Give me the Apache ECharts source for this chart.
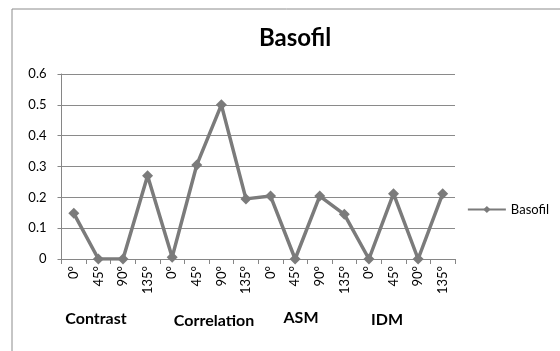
<!DOCTYPE html>
<html>
<head>
<meta charset="utf-8">
<script src="https://cdn.jsdelivr.net/npm/echarts@6/dist/echarts.min.js"></script>
<style>
  html, body { margin: 0; padding: 0; background: #fff; }
  #chart { width: 560px; height: 351px; }
</style>
</head>
<body>
<div id="chart"></div>
<script>
// Angle categories, repeated for each texture feature group
const angles = ['0°', '45°', '90°', '135°', '0°', '45°', '90°', '135°',
                '0°', '45°', '90°', '135°', '0°', '45°', '90°', '135°'];
const groups = ['Contrast', 'Correlation', 'ASM', 'IDM'];
const basofil = [0.148, 0, 0, 0.27, 0.006, 0.305, 0.5, 0.195,
                 0.204, 0, 0.204, 0.145, 0, 0.212, 0, 0.212];
const yTicks = { min: 0, max: 0.6, interval: 0.1 };

const font = 'Lato, "Open Sans", "Liberation Sans", sans-serif';
const gray = '#7b7b7b';

const chart = echarts.init(document.getElementById('chart'), null, { renderer: 'canvas' });

chart.setOption({
  animation: false,
  backgroundColor: '#fff',
  title: {
    text: 'Basofil',
    left: 290,
    top: 21,
    textAlign: 'center',
    textStyle: { fontFamily: font, fontSize: 24, fontWeight: 'bold', color: '#000' }
  },
  legend: {
    right: 6,
    top: 198,
    itemWidth: 38,
    itemHeight: 9,
    itemGap: 4,
    textStyle: { fontFamily: font, fontSize: 13, color: '#000' },
    data: ['Basofil']
  },
  grid: { left: 61.5, right: 105, top: 74, bottom: 92 },
  xAxis: {
    type: 'category',
    data: angles,
    boundaryGap: true,
    axisLine: { lineStyle: { color: '#868686', width: 1 } },
    axisTick: { show: true, length: 5, lineStyle: { color: '#868686' } },
    axisLabel: {
      rotate: 90,
      interval: 0,
      margin: 7,
      fontFamily: font,
      fontSize: 13,
      color: '#000'
    }
  },
  yAxis: {
    type: 'value',
    min: yTicks.min,
    max: yTicks.max,
    interval: yTicks.interval,
    axisLine: { show: true, lineStyle: { color: '#868686', width: 1 } },
    axisTick: { show: true, length: 4, lineStyle: { color: '#868686' } },
    axisLabel: {
      margin: 15,
      fontFamily: font,
      fontSize: 13,
      color: '#000',
      formatter: v => (Math.round(v * 10) / 10).toString()
    },
    splitLine: { lineStyle: { color: '#8a8a8a', width: 1 } }
  },
  series: [{
    name: 'Basofil',
    type: 'line',
    data: basofil,
    symbol: 'diamond',
    symbolSize: 11,
    lineStyle: { color: gray, width: 3.5 },
    itemStyle: { color: gray }
  }],
  graphic: [
    {
      type: 'rect',
      silent: true,
      shape: { x: 12, y: 9, width: 600, height: 400 },
      style: { fill: 'none', stroke: '#8c8c8c', lineWidth: 1 }
    },
    ...[
      { x: 96, y: 319 },
      { x: 214, y: 321 },
      { x: 301, y: 318 },
      { x: 387, y: 320 }
    ].map((p, i) => ({
      type: 'text',
      silent: true,
      x: p.x,
      y: p.y,
      style: {
        text: groups[i],
        fontFamily: font,
        fontSize: 16,
        fontWeight: 'bold',
        fill: '#000',
        align: 'center',
        verticalAlign: 'middle'
      }
    }))
  ]
});
</script>
</body>
</html>
